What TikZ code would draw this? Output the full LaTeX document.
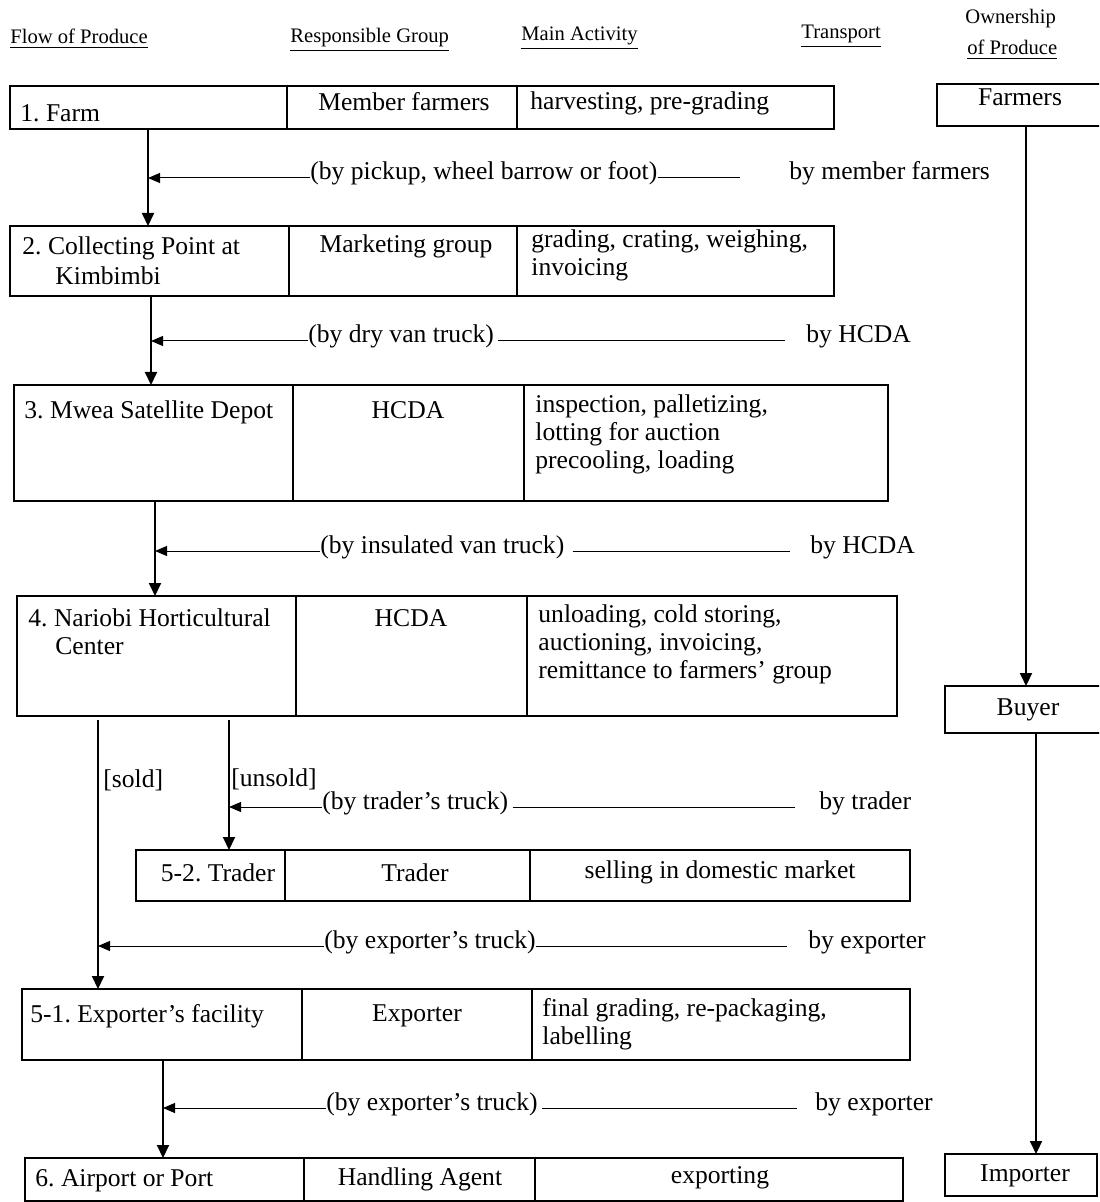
\documentclass[tikz,border=0pt]{standalone}
\usepackage{fontspec}
\setmainfont{Liberation Serif}
\usetikzlibrary{arrows.meta,fit}

\begin{document}
\frenchspacing
\begin{tikzpicture}[x=0.5pt,y=-0.5pt,
  cell/.style={draw, line width=0.7pt, inner sep=0pt, outer sep=0pt, fit={#1}},
  txt/.style={inner sep=0pt, font=\fontsize{12.8}{14}\selectfont},
  lt/.style={txt, anchor=base west},
  ct/.style={txt, anchor=base},
  hd/.style={inner sep=0pt, anchor=base west, font=\fontsize{10.3}{12}\selectfont},
  flow/.style={line width=1pt, -{Triangle[length=6.5pt,width=6pt]}},
  tarrow/.style={line width=0.5pt, -{Triangle[length=6pt,width=5pt]}},
  tline/.style={line width=0.5pt}]

\clip (0,0) rectangle (1099,1202);
\fill[white] (0,0) rectangle (1099,1202);

% column headings
\node[hd] (h1) at (10,44) {\underline{Flow of Produce}};
\node[hd] (h2) at (290,43) {\underline{Responsible Group}};
\node[hd] (h3) at (521,41) {\underline{Main Activity}};
\node[hd] (h4) at (801,39) {\underline{Transport}};
\node[hd] (h5a) at (965,24) {Ownership};
\node[hd] (h5b) at (967,55) {\underline{of Produce}};

% x positions of the vertical flow lines
\coordinate (f1) at (148,0);
\coordinate (f2) at (151,0);
\coordinate (f3) at (155,0);
\coordinate (f6) at (163,0);
\coordinate (s1) at (98,0);
\coordinate (s2) at (229,0);
\coordinate (g1) at (1026,0);
\coordinate (g2) at (1036,0);
% right ends of the transport lines
\coordinate (e1) at (740,0);
\coordinate (e2) at (785,0);
\coordinate (e3) at (790,0);
\coordinate (e4) at (795,0);
\coordinate (e5) at (787,0);
\coordinate (e6) at (797,0);

% 1. Farm
\node[cell={(10,86)(287,129)}] (r1a) {};
\node[cell={(287,86)(517,129)}] (r1b) {};
\node[cell={(517,86)(834,129)}] (r1c) {};
\node[lt] (t1a) at (20,122) {1. Farm};
\node[ct] (t1b) at (404,111) {Member farmers};
\node[lt] (t1c) at (530,110) {harvesting, pre-grading};

% 2. Collecting point
\node[cell={(10,226)(289,296)}] (r2a) {};
\node[cell={(289,226)(517,296)}] (r2b) {};
\node[cell={(517,226)(834,296)}] (r2c) {};
\node[lt] (t2a) at (22,255) {2. Collecting Point at};
\node[lt] (t2a2) at (55,285) {Kimbimbi};
\node[ct] (t2b) at (406,253) {Marketing group};
\node[lt] (t2c) at (531,248) {grading, crating, weighing,};
\node[lt] (t2c2) at (531,276) {invoicing};

% 3. Satellite depot
\node[cell={(14,385)(293,501)}] (r3a) {};
\node[cell={(293,385)(524,501)}] (r3b) {};
\node[cell={(524,385)(888,501)}] (r3c) {};
\node[lt] (t3a) at (24,419) {3. Mwea Satellite Depot};
\node[ct] (t3b) at (408,419) {HCDA};
\node[lt] (t3c) at (535,413) {inspection, palletizing,};
\node[lt] (t3c2) at (535,441) {lotting for auction};
\node[lt] (t3c3) at (535,469) {precooling, loading};

% 4. Horticultural center
\node[cell={(17,596)(296,716)}] (r4a) {};
\node[cell={(296,596)(527,716)}] (r4b) {};
\node[cell={(527,596)(897,716)}] (r4c) {};
\node[lt] (t4a) at (28,626) {4. Nariobi Horticultural};
\node[lt] (t4a2) at (55,654) {Center};
\node[ct] (t4b) at (411,626) {HCDA};
\node[lt] (t4c) at (538,622) {unloading, cold storing,};
\node[lt] (t4c2) at (538,650) {auctioning, invoicing,};
\node[lt] (t4c3) at (538,678) {remittance to farmers’ group};

% 5-2. Trader
\node[cell={(136,850)(285,901)}] (r52a) {};
\node[cell={(285,850)(530,901)}] (r52b) {};
\node[cell={(530,850)(910,901)}] (r52c) {};
\node[ct] (t52a) at (218,881) {5-2. Trader};
\node[ct] (t52b) at (415,881) {Trader};
\node[ct] (t52c) at (720,878) {selling in domestic market};

% 5-1. Exporter
\node[cell={(22,989)(302,1060)}] (r51a) {};
\node[cell={(302,989)(532,1060)}] (r51b) {};
\node[cell={(532,989)(910,1060)}] (r51c) {};
\node[lt] (t51a) at (30,1022) {5-1. Exporter’s facility};
\node[ct] (t51b) at (417,1021) {Exporter};
\node[lt] (t51c) at (542,1016) {final grading, re-packaging,};
\node[lt] (t51c2) at (542,1044) {labelling};

% 6. Airport or port
\node[cell={(25,1158)(304,1201)}] (r6a) {};
\node[cell={(304,1158)(535,1201)}] (r6b) {};
\node[cell={(535,1158)(903,1201)}] (r6c) {};
\node[lt] (t6a) at (35,1186) {6. Airport or Port};
\node[ct] (t6b) at (420,1185) {Handling Agent};
\node[ct] (t6c) at (720,1183) {exporting};

% ownership column
\node[cell={(937,84)(1120,126)}] (own1) {};
\node[ct] (o1) at (1020,106) {Farmers};
\node[cell={(945,686)(1120,733)}] (own2) {};
\node[ct] (o2) at (1028,715) {Buyer};
\node[cell={(945,1154)(1097,1196)}] (own3) {};
\node[ct] (o3) at (1025,1181) {Importer};

% flow of produce
\draw[flow] (r1a.south -| f1) -- (r2a.north -| f1);
\draw[flow] (r2a.south -| f2) -- (r3a.north -| f2);
\draw[flow] (r3a.south -| f3) -- (r4a.north -| f3);
\draw[flow, shorten <=2pt] (r4a.south -| s1) -- (r51a.north -| s1);
\draw[flow, shorten <=2pt] (r4a.south -| s2) -- (r52a.north -| s2);
\draw[flow] (r51a.south -| f6) -- (r6a.north -| f6);
\node[lt] (sold) at (103,787) {[sold]};
\node[lt] (unsold) at (231,786) {[unsold]};

% ownership transfers
\draw[flow] (own1.south -| g1) -- (own2.north -| g1);
\draw[flow] (own2.south -| g2) -- (own3.north -| g2);

% transport legs
\node[lt] (p1) at (310,180) {(by pickup, wheel barrow or foot)};
\node[lt] (q1) at (789,180) {by member farmers};
\coordinate (k1) at ([yshift=1pt]p1.base west);
\draw[tarrow] (k1) -- (k1 -| f1);
\draw[tline] (k1 -| p1.east) -- (k1 -| e1);

\node[lt] (p2) at (308,343) {(by dry van truck)};
\node[lt] (q2) at (806,343) {by HCDA};
\coordinate (k2) at ([yshift=1pt]p2.base west);
\draw[tarrow] (k2) -- (k2 -| f2);
\draw[tline] ([xshift=2pt]k2 -| p2.east) -- (k2 -| e2);

\node[lt] (p3) at (320,553) {(by insulated van truck)};
\node[lt] (q3) at (810,553) {by HCDA};
\coordinate (k3) at ([yshift=1pt]p3.base west);
\draw[tarrow] (k3) -- (k3 -| f3);
\draw[tline] ([xshift=4pt]k3 -| p3.east) -- (k3 -| e3);

\node[lt] (p4) at (322,809) {(by trader’s truck)};
\node[lt] (q4) at (819,809) {by trader};
\coordinate (k4) at ([yshift=1pt]p4.base west);
\draw[tarrow] (k4) -- (k4 -| s2);
\draw[tline] ([xshift=2pt]k4 -| p4.east) -- (k4 -| e4);

\node[lt] (p5) at (324,948) {(by exporter’s truck)};
\node[lt] (q5) at (808,948) {by exporter};
\coordinate (k5) at ([yshift=1pt]p5.base west);
\draw[tarrow] (k5) -- (k5 -| s1);
\draw[tline] (k5 -| p5.east) -- (k5 -| e5);

\node[lt] (p6) at (326,1110) {(by exporter’s truck)};
\node[lt] (q6) at (815,1110) {by exporter};
\coordinate (k6) at ([yshift=1pt]p6.base west);
\draw[tarrow] (k6) -- (k6 -| f6);
\draw[tline] ([xshift=2pt]k6 -| p6.east) -- (k6 -| e6);

\end{tikzpicture}
\end{document}
